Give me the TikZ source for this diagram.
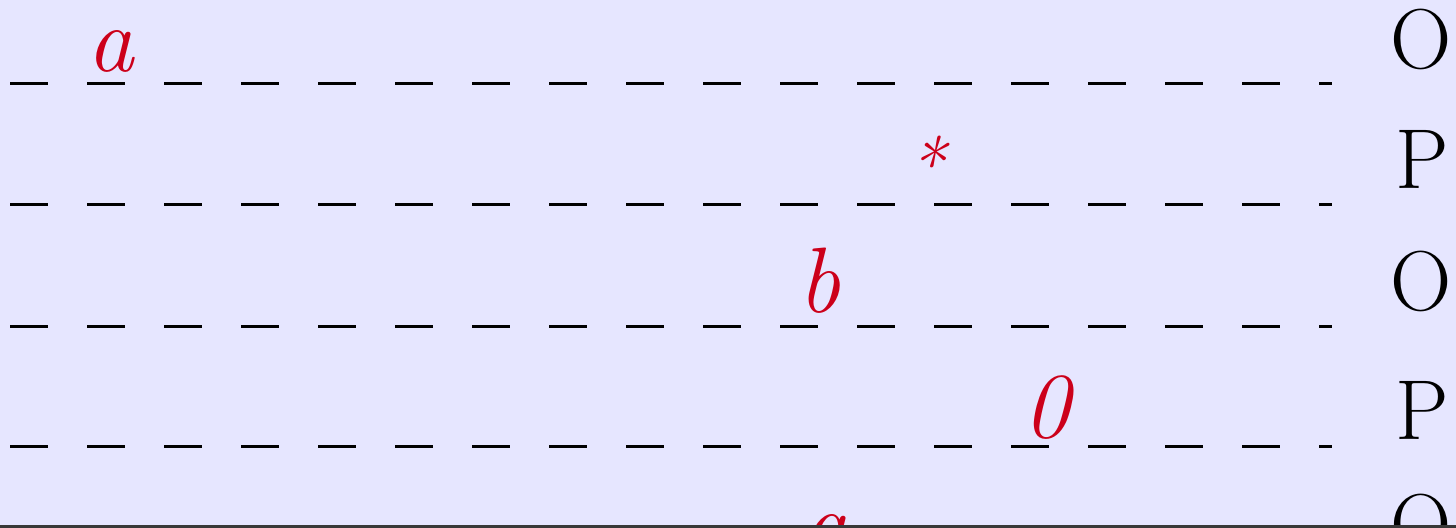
\documentclass[tikz,border=0pt]{standalone}
\usepackage{fontspec}
\definecolor{tapebg}{RGB}{230,230,255}
\definecolor{headred}{RGB}{204,0,26}
\definecolor{frameedge}{RGB}{56,56,56}
\tikzset{
  cell/.style={line width=1.5pt, dash pattern=on 19pt off 19.5pt},
  sym/.style={text=headred, inner sep=0pt, anchor=base,
    font=\fontsize{46.5pt}{50pt}\selectfont\itshape},
  stname/.style={inner sep=0pt, anchor=base,
    font=\fontsize{42.5pt}{46pt}\selectfont},
}
\begin{document}
\begin{tikzpicture}[x=0.5pt, y=-0.5pt]
	\useasboundingbox (0,0) rectangle (1456,528);
	\fill[tapebg] (0,0) rectangle (1456,525);
	\begin{scope}
		\clip (0,0) rectangle (1456,525);
		% tape rows
		\foreach \r/\y in {1/84,2/205,3/327,4/447}
			{
				\coordinate (l\r) at (10,\y);
				\coordinate (r\r) at (1332,\y);
				\draw[cell] (l\r) -- (r\r);
			}
		% symbols under the head
		\node[sym] (s1) at (111,72) {a};
		\node[sym, font=\fontsize{37pt}{40pt}\selectfont\itshape] (s2) at (926,192) {*};
		\node[sym] (s3) at (819,313) {b};
		\node[sym] (s4) at (1047,438) {0};
		\node[sym] (s5) at (826,556) {a};
		% states
		\node[stname] (q1) at (1421,69) {O};
		\node[stname] (q2) at (1422,189) {P};
		\node[stname] (q3) at (1421,311) {O};
		\node[stname] (q4) at (1422,440) {P};
		\node[stname] (q5) at (1421,553) {O};
	\end{scope}
	\fill[frameedge] (0,525) rectangle (1456,528);
\end{tikzpicture}
\end{document}
